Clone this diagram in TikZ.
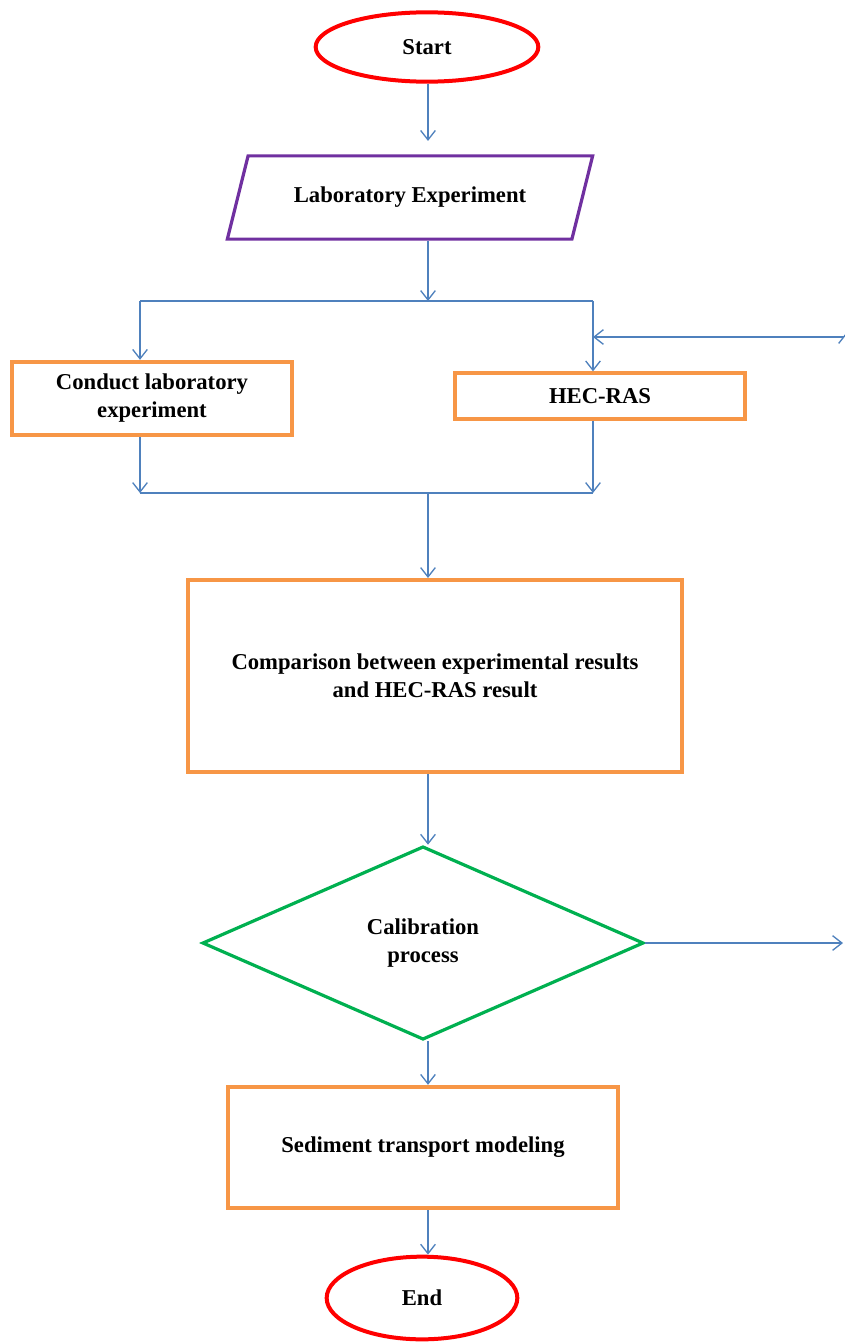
\documentclass[tikz,border=0pt]{standalone}
\usepackage{fontspec}
\setmainfont{Liberation Serif}
\usepackage{xcolor}
\definecolor{ColR}{RGB}{255,0,0}
\definecolor{ColO}{RGB}{247,150,70}
\definecolor{ColP}{RGB}{112,48,160}
\definecolor{ColG}{RGB}{0,176,80}
\definecolor{ColB}{RGB}{79,129,189}
\usepackage{tikz}
\usetikzlibrary{shapes.geometric}
\usetikzlibrary{arrows.meta}
\tikzstyle{Text}=[font=\bfseries\fontsize{17}{21}\selectfont,align=center]
\tikzstyle{Terminal}=[Text,ellipse,draw=ColR,line width=3pt,inner sep=0pt]
\tikzstyle{Process}=[Text,rectangle,draw=ColO,line width=3pt,inner sep=0pt]
\tikzstyle{Data}=[Text,trapezium,trapezium left angle=76,trapezium right angle=104,
trapezium stretches body,draw=ColP,line width=2.4pt,inner xsep=0pt,inner ysep=23.5pt]
\tikzstyle{Decision}=[Text,diamond,draw=ColG,line width=2.4pt,inner sep=0pt]
\tikzstyle{Flow}=[draw=ColB,line width=1pt,-{Straight Barb[length=7pt,width=11pt]}]
\tikzstyle{Line}=[draw=ColB,line width=1pt]

\begin{document}
\begin{tikzpicture}[x=0.75pt,y=-0.75pt]
        \useasboundingbox(0,0)rectangle(844,1342);
        \node[Terminal,minimum width=167pt,minimum height=52pt](start)at(427.00,47.00){Start};
        \node[Data,minimum width=274pt,minimum height=62pt](lab)at(410.00,197.50){Laboratory Experiment};
        \node[Process,minimum width=210pt,minimum height=55pt](cond)at(152.00,398.50){Conduct laboratory\\experiment};
        \node[Process,minimum width=217pt,minimum height=34pt](hec)at(600.00,396.00){HEC-RAS};
        \node[Process,minimum width=370pt,minimum height=144pt](comp)at(435.00,676.00){Comparison between experimental results\\and HEC-RAS result};
        \node[Decision,minimum width=331pt,minimum height=145pt](calib)at(423.00,943.00){Calibration\\process};
        \node[Process,minimum width=292pt,minimum height=91pt](sed)at(423.00,1147.50){Sediment transport modeling};
        \node[Terminal,minimum width=143pt,minimum height=62pt](end)at(422.00,1298.00){End};
        \coordinate(st)at(428.00,301.00);
        \coordinate(sl)at(140.00,301.00);
        \coordinate(sr)at(593.00,301.00);
        \coordinate(mc)at(428.00,493.00);
        \coordinate(ml)at(140.00,493.00);
        \coordinate(mr)at(593.00,493.00);
        \coordinate(fr)at(843.00,943.00);
        \coordinate(fb)at(844.00,337.00);
        \coordinate(fh)at(593.00,337.00);
        \coordinate(fu)at(846.00,380.00);
        \coordinate(ft)at(846.00,333.00);
        \draw[Flow,shorten >=10pt](start.south-|st)--(lab.north-|st);
        \draw[Flow](lab.south-|st)--(st);
        \draw[Line](sl)--(sr);
        \draw[Flow](sl)--(cond.north-|sl);
        \draw[Flow](sr)--(hec.north-|sr);
        \draw[Flow](fb)--(fh);
        \draw[Flow](fu)--(ft);
        \draw[Flow](cond.south-|ml)--(ml);
        \draw[Flow](hec.south-|mr)--(mr);
        \draw[Line](ml)--(mr);
        \draw[Flow](mc)--(comp.north-|mc);
        \draw[Flow](comp.south-|mc)--(calib.north-|mc);
        \draw[Flow](calib.east)--(fr);
        \draw[Flow](calib.south-|mc)--(sed.north-|mc);
        \draw[Flow](sed.south-|mc)--(end.north-|mc);
    \end{tikzpicture}
\end{document}
